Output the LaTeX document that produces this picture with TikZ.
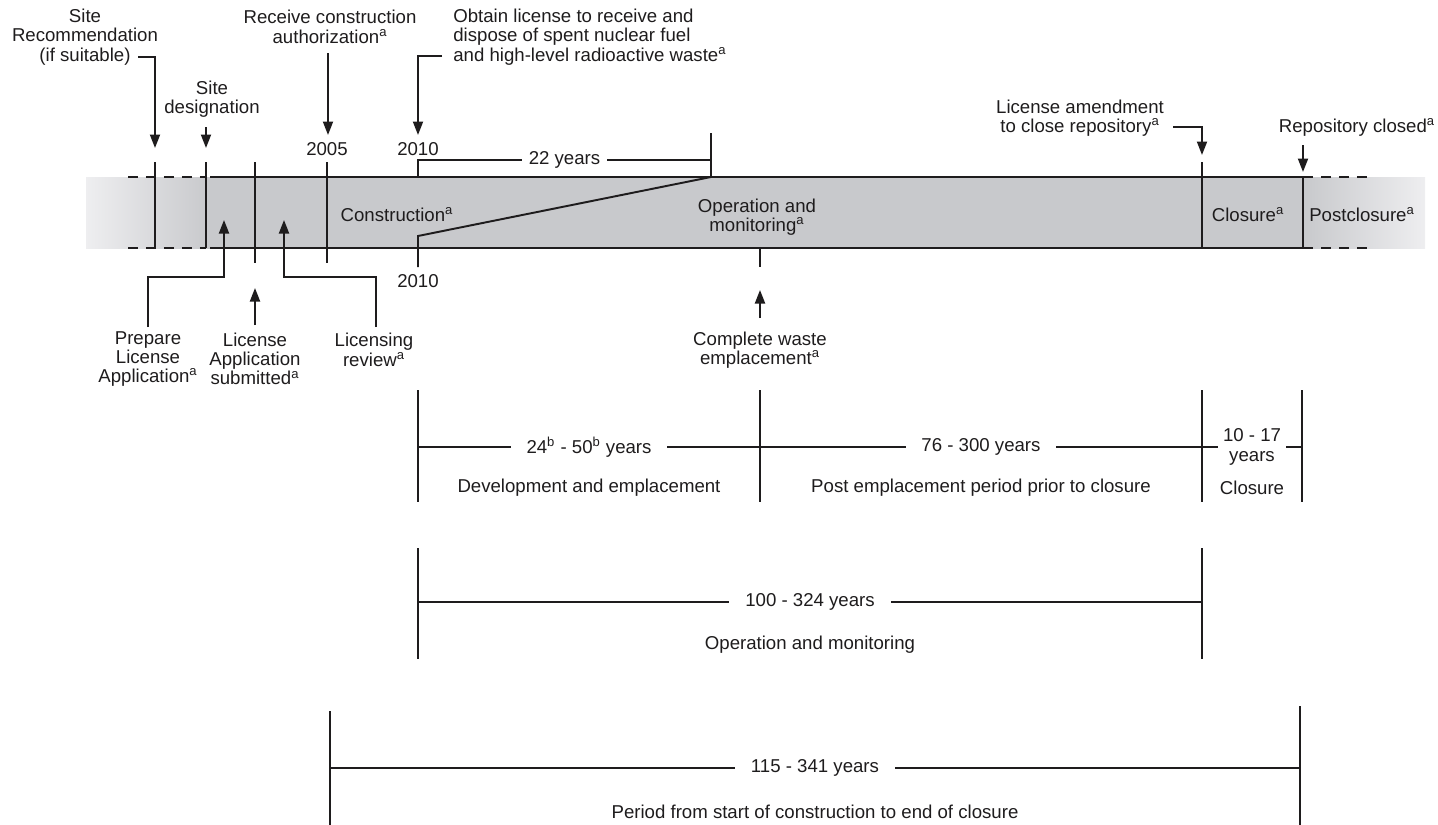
\documentclass[tikz,border=0pt]{standalone}
\usepackage{fontspec}
\setmainfont{Liberation Sans}
\usepackage{tikz}
\usetikzlibrary{arrows.meta}
\definecolor{barGray}{RGB}{200,201,204}
\definecolor{fadeGray}{RGB}{238,238,240}
\definecolor{inkGray}{RGB}{30,28,29}
\tikzset{
	rule/.style={draw=inkGray, line width=1.1pt},
	barline/.style={draw=inkGray, line width=1.4pt},
	dashline/.style={draw=inkGray, line width=1.2pt, dash pattern=on 0.2cm off 0.16cm},
	pointer/.style={draw=inkGray, line width=1.1pt, -{Triangle[length=0.27cm,width=0.2cm]}},
	gaplabel/.style={fill=white, inner xsep=4pt, inner ysep=1pt},
	spanlabel/.style={fill=white, inner xsep=9pt, inner ysep=1pt}
}

\begin{document}
\begin{tikzpicture}[x=0.02cm, y=-0.02cm,
		font=\fontsize{10.6}{11}\selectfont,
		every node/.style={text=inkGray, align=center, inner sep=0pt}]
	\useasboundingbox (0,0) rectangle (1438,825);

	\shade[left color=fadeGray, right color=barGray] (86,177) rectangle (210,248);
	\shade[left color=barGray, right color=fadeGray] (1303,177) rectangle (1425,248);
	\fill[barGray] (210,177) rectangle (1303,248);
	\draw[barline] (210,177) -- (1303,177) -- (1303,248) -- (210,248);
	\draw[dashline] (128,177) -- (206,177);
	\draw[dashline] (128,248) -- (206,248);
	\draw[dashline] (1303,177) -- (1368,177);
	\draw[dashline] (1303,248) -- (1368,248);

	\foreach \x/\y in {155/248, 206/248, 255/263, 327/263, 1202/248}
		\draw[rule] (\x,162) -- (\x,\y);
	\draw[rule] (760,248) -- (760,267);
	\draw[rule] (711,133) -- (711,177) -- (418,236) -- (418,267);
	\draw[rule] (418,177) -- (418,160) -- node[gaplabel] (yrs22) {22 years} (711,160);

	\node (constr) at (397,215) {Construction\textsuperscript{a}};
	\node (opmon) at (757,217) {Operation and\\monitoring\textsuperscript{a}};
	\node (closure) at (1248,215) {Closure\textsuperscript{a}};
	\node (postcl) at (1362,215) {Postclosure\textsuperscript{a}};
	\node (y2005) at (327,149) {2005};
	\node (y2010a) at (418,149) {2010};
	\node (y2010b) at (418,281) {2010};

	\node (siterec) at (85,37) {Site\\Recommendation\\(if suitable)};
	\node (sitedes) at (212,99) {Site\\designation};
	\node (recauth) at (330,27) {Receive construction\\authorization\textsuperscript{a}};
	\node[anchor=west, align=left] (obtain) at (453,37) {Obtain license to receive and\\dispose of spent nuclear fuel\\and high-level radioactive waste\textsuperscript{a}};
	\node (amend) at (1080,118) {License amendment\\to close repository\textsuperscript{a}};
	\node (repclosed) at (1357,127) {Repository closed\textsuperscript{a}};

	\coordinate (recA) at (138,57);
	\coordinate (recB) at (155,148);
	\coordinate (desA) at (206,127);
	\coordinate (desB) at (206,148);
	\coordinate (authA) at (328,53);
	\coordinate (authB) at (328,135);
	\coordinate (obtA) at (442,56);
	\coordinate (obtB) at (418,135);
	\coordinate (amA) at (1173,127);
	\coordinate (amB) at (1202,155);
	\coordinate (clA) at (1303,145);
	\coordinate (clB) at (1303,172);
	\draw[pointer] (recA) -| (recB);
	\draw[pointer] (desA) -- (desB);
	\draw[pointer] (authA) -- (authB);
	\draw[pointer] (obtA) -| (obtB);
	\draw[pointer] (amA) -| (amB);
	\draw[pointer] (clA) -- (clB);

	\node (prepla) at (148,359) {Prepare\\License\\Application\textsuperscript{a}};
	\node (lasub) at (255,359) {License\\Application\\submitted\textsuperscript{a}};
	\node (licrev) at (374,350) {Licensing\\review\textsuperscript{a}};
	\node (wastedone) at (760,350) {Complete waste\\emplacement\textsuperscript{a}};

	\coordinate (prepA) at (148,327);
	\coordinate (prepK) at (224,277);
	\coordinate (prepB) at (224,220);
	\coordinate (subA) at (255,325);
	\coordinate (subB) at (255,288);
	\coordinate (revA) at (376,327);
	\coordinate (revK) at (284,277);
	\coordinate (revB) at (284,220);
	\coordinate (wasteA) at (760,318);
	\coordinate (wasteB) at (760,290);
	\draw[pointer] (prepA) |- (prepK) -- (prepB);
	\draw[pointer] (subA) -- (subB);
	\draw[pointer] (revA) |- (revK) -- (revB);
	\draw[pointer] (wasteA) -- (wasteB);

	\foreach \x in {418, 760, 1202, 1302}
		\draw[rule] (\x,390) -- (\x,502);
	\draw[rule] (418,447) -- node[spanlabel] (devyrs) {24\textsuperscript{b} - 50\textsuperscript{b} years} (760,447);
	\draw[rule] (760,447) -- node[spanlabel] (postyrs) {76 - 300 years} (1202,447);
	\draw[rule] (1202,447) -- node[gaplabel, inner xsep=3pt] (clyrs) {10 - 17\\years} (1302,447);
	\node (devemp) at (589,488) {Development and emplacement};
	\node (postemp) at (981,488) {Post emplacement period prior to closure};
	\node (clphase) at (1252,488) {Closure};

	\draw[rule] (418,548) -- (418,659);
	\draw[rule] (1202,548) -- (1202,659);
	\draw[rule] (418,602) -- node[spanlabel] (opyrs) {100 - 324 years} (1202,602);
	\node (opphase) at (810,645) {Operation and monitoring};

	\draw[rule] (330,711) -- (330,825);
	\draw[rule] (1300,706) -- (1300,825);
	\draw[rule] (330,768) -- node[spanlabel] (allyrs) {115 - 341 years} (1300,768);
	\node (allphase) at (815,812) {Period from start of construction to end of closure};
\end{tikzpicture}
\end{document}
